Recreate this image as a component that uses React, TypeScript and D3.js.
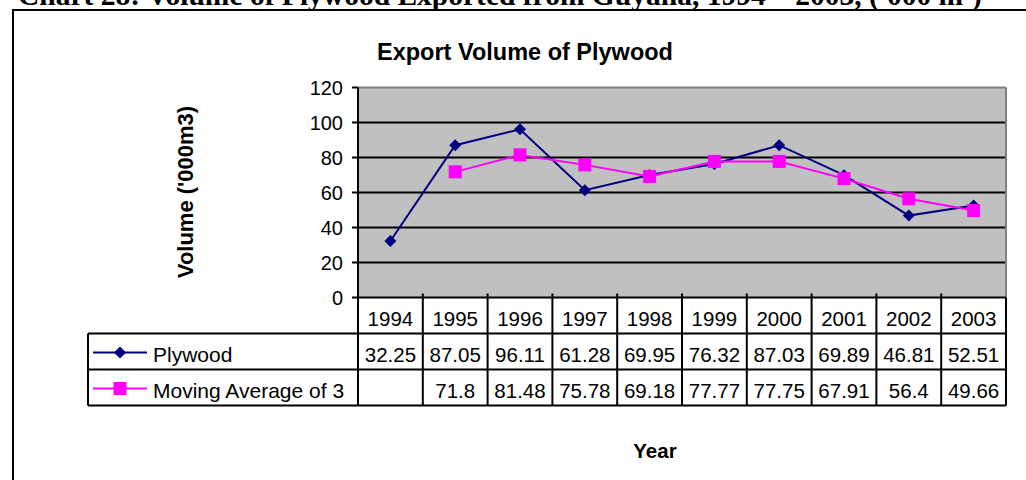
import React from "react"
import * as d3 from "d3"

const years = ["1994", "1995", "1996", "1997", "1998", "1999", "2000", "2001", "2002", "2003"]
const plywood = [32.25, 87.05, 96.11, 61.28, 69.95, 76.32, 87.03, 69.89, 46.81, 52.51]
const movingAvg: (number | null)[] = [null, 71.8, 81.48, 75.78, 69.18, 77.77, 77.75, 67.91, 56.4, 49.66]
const yTicks = [0, 20, 40, 60, 80, 100, 120]

const W = 1026
const H = 480
const plot = { left: 358, right: 1006, top: 87.5, bottom: 297.5 }
const tableLeft = 88
const rowH = 36
const navy = "#000080"
const pink = "#FF00FF"
const font = "Arial, 'Liberation Sans', sans-serif"

const App = () => {
  const x = d3.scaleBand<string>().domain(years).range([plot.left, plot.right])
  const y = d3.scaleLinear().domain([0, 120]).range([plot.bottom, plot.top])
  const cx = (i: number) => (x(years[i]) as number) + x.bandwidth() / 2

  const lineGen = d3
    .line<number | null>()
    .defined(d => d !== null)
    .x((d, i) => cx(i))
    .y(d => y(d as number))

  const row1 = plot.bottom
  const row2 = row1 + rowH
  const row3 = row2 + rowH
  const row4 = row3 + rowH

  const diamond = (px: number, py: number, r: number) =>
    `M${px},${py - r}L${px + r},${py}L${px},${py + r}L${px - r},${py}Z`

  return (
    <div>
      <style>{`body{margin:0}`}</style>
      <svg width={W} height={H} style={{ display: "block", background: "#fff" }}>
        {/* page caption, cut off at the top like in the scan */}
        <text x={18} y={5} fontFamily="'Times New Roman', 'Liberation Serif', serif" fontWeight="bold" fontSize={29.5}>
          Chart 28: Volume of Plywood Exported from Guyana, 1994 – 2003, ('000 m³)
        </text>
        {/* frame */}
        <line x1={13} x2={W} y1={10} y2={10} stroke="#000" strokeWidth={2} />
        <line x1={13} x2={13} y1={9} y2={H} stroke="#000" strokeWidth={2} />

        <text x={525} y={60} textAnchor="middle" fontFamily={font} fontWeight="bold" fontSize={23.5}>
          Export Volume of Plywood
        </text>

        {/* plot area */}
        <rect x={plot.left} y={plot.top} width={plot.right - plot.left} height={plot.bottom - plot.top} fill="#C0C0C0" />
        {yTicks.filter(t => t > 0 && t < 120).map(t => (
          <line key={t} x1={plot.left} x2={plot.right} y1={y(t)} y2={y(t)} stroke="#000" strokeWidth={2} />
        ))}
        <line x1={plot.left} x2={plot.right} y1={plot.top} y2={plot.top} stroke="#808080" strokeWidth={2} />
        <line x1={plot.right} x2={plot.right} y1={plot.top} y2={plot.bottom} stroke="#808080" strokeWidth={2} />
        <line x1={plot.left} x2={plot.left} y1={plot.top} y2={plot.bottom} stroke="#000" strokeWidth={2} />

        {/* y axis */}
        {yTicks.map(t => (
          <g key={t}>
            <line x1={plot.left - 6} x2={plot.left} y1={y(t)} y2={y(t)} stroke="#000" strokeWidth={2} />
            <text x={plot.left - 15} y={y(t)} dy="0.36em" textAnchor="end" fontFamily={font} fontSize={20}>
              {t}
            </text>
          </g>
        ))}
        <text
          transform={`translate(193,192) rotate(-90)`}
          textAnchor="middle"
          fontFamily={font}
          fontWeight="bold"
          fontSize={22}
        >
          Volume ('000m3)
        </text>

        {/* series */}
        <path d={lineGen(plywood) || ""} fill="none" stroke={navy} strokeWidth={2} />
        <path d={lineGen(movingAvg) || ""} fill="none" stroke={pink} strokeWidth={2} />
        {plywood.map((v, i) => (
          <path key={i} d={diamond(cx(i), y(v), 6)} fill={navy} />
        ))}
        {movingAvg.map((v, i) =>
          v === null ? null : (
            <rect key={i} x={cx(i) - 6.5} y={y(v) - 6.5} width={13} height={13} fill={pink} />
          )
        )}

        {/* data table */}
        <g stroke="#000" strokeWidth={2}>
          <line x1={plot.left} x2={plot.right} y1={row1} y2={row1} />
          <line x1={tableLeft} x2={plot.right} y1={row2} y2={row2} />
          <line x1={tableLeft} x2={plot.right} y1={row3} y2={row3} />
          <line x1={tableLeft} x2={plot.right} y1={row4} y2={row4} />
          <line x1={tableLeft} x2={tableLeft} y1={row2} y2={row4} />
          {years.map(yr => (
            <line key={yr} x1={x(yr)} x2={x(yr)} y1={row1 - 4} y2={row4} />
          ))}
          <line x1={plot.right} x2={plot.right} y1={row1} y2={row4} />
        </g>
        {years.map((yr, i) => (
          <g key={yr} fontFamily={font} fontSize={20.5} textAnchor="middle">
            <text x={cx(i)} y={row2 - 8}>{yr}</text>
            <text x={cx(i)} y={row3 - 8}>{plywood[i]}</text>
            {movingAvg[i] !== null && <text x={cx(i)} y={row4 - 8}>{movingAvg[i]}</text>}
          </g>
        ))}

        {/* legend keys */}
        <line x1={93} x2={147} y1={row2 + 19} y2={row2 + 19} stroke={navy} strokeWidth={2} />
        <path d={diamond(120, row2 + 19, 6)} fill={navy} />
        <text x={153} y={row3 - 8} fontFamily={font} fontSize={21}>Plywood</text>
        <line x1={93} x2={147} y1={row3 + 19} y2={row3 + 19} stroke={pink} strokeWidth={2} />
        <rect x={113.5} y={row3 + 12.5} width={13} height={13} fill={pink} />
        <text x={153} y={row4 - 8} fontFamily={font} fontSize={21}>Moving Average of 3</text>

        <text x={655} y={458} textAnchor="middle" fontFamily={font} fontWeight="bold" fontSize={20.5}>
          Year
        </text>
      </svg>
    </div>
  )
}

export default App
